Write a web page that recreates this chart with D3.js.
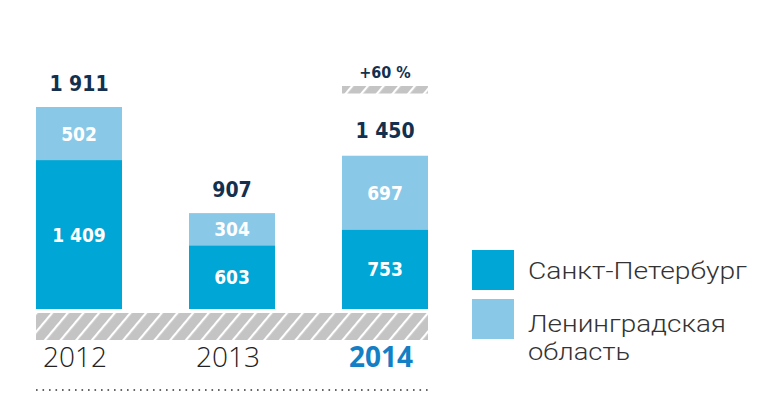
<!DOCTYPE html>
<html><head><meta charset="utf-8">
<script src="https://cdn.jsdelivr.net/npm/d3@7"></script>
<style>
body{margin:0;background:#fff;}
svg{display:block;}
</style></head>
<body>
<svg id="c" width="774" height="413"></svg>
<script>
const years = ["2012", "2013", "2014"];
const spb = [1409, 603, 753];
const lenobl = [502, 304, 697];
const totals = [1911, 907, 1450];
const growthLabel = "+60 %";
const seriesNames = ["Санкт-Петербург", "Ленинградская область"];
const colors = ["#00A6D6", "#8AC8E8"];

const svg = d3.select("#c");
const loc = d3.formatLocale({decimal: ",", thousands: "\u2009", grouping: [3], currency: ["", ""]});
const fmt = v => loc.format(",")(v).replace("\u2009", " ");

const x = d3.scaleBand().domain(years).range([36, 428]).paddingInner(0.438).paddingOuter(0);
const y = d3.scaleLinear().domain([0, 1911]).range([309, 107]);

const defs = svg.append("defs");
const pat = defs.append("pattern").attr("id", "hatch").attr("patternUnits", "userSpaceOnUse")
  .attr("width", 12).attr("height", 12).attr("patternTransform", "rotate(40)");
pat.append("rect").attr("width", 12).attr("height", 12).attr("fill", "#C4C4C4");
pat.append("rect").attr("x", 0).attr("width", 2.2).attr("height", 12).attr("fill", "#fff");

const data = years.map((yr, i) => ({yr, a: spb[i], b: lenobl[i], t: totals[i]}));

// bars
const g = svg.append("g");
g.selectAll(".spb").data(data).join("rect")
  .attr("x", d => x(d.yr)).attr("width", x.bandwidth())
  .attr("y", d => y(d.a)).attr("height", d => y(0) - y(d.a)).attr("fill", colors[0]);
g.selectAll(".lo").data(data).join("rect")
  .attr("x", d => x(d.yr)).attr("width", x.bandwidth())
  .attr("y", d => y(d.a + d.b)).attr("height", d => y(d.a) - y(d.a + d.b)).attr("fill", colors[1]);

const numFont = "'DejaVu Sans Condensed','DejaVu Sans',sans-serif";
// segment labels
g.selectAll(".la").data(data).join("text")
  .attr("x", d => x(d.yr) + x.bandwidth() / 2).attr("y", d => (y(0) + y(d.a)) / 2 + 7)
  .attr("text-anchor", "middle").attr("fill", "#fff")
  .style("font-family", numFont).style("font-weight", "bold").style("font-size", "19px")
  .text(d => fmt(d.a));
g.selectAll(".lb").data(data).join("text")
  .attr("x", d => x(d.yr) + x.bandwidth() / 2).attr("y", d => (y(d.a) + y(d.a + d.b)) / 2 + 7)
  .attr("text-anchor", "middle").attr("fill", "#fff")
  .style("font-family", numFont).style("font-weight", "bold").style("font-size", "19px")
  .text(d => fmt(d.b));
// totals
g.selectAll(".lt").data(data).join("text")
  .attr("x", d => x(d.yr) + x.bandwidth() / 2).attr("y", (d, i) => y(d.t) - (i === 2 ? 18 : 16))
  .attr("text-anchor", "middle").attr("fill", "#13304F")
  .style("font-family", numFont).style("font-weight", "bold").style("font-size", "21px")
  .text(d => fmt(d.t));

// growth marker on last bar
const last = data[2];
svg.append("rect").attr("x", x(last.yr)).attr("width", x.bandwidth())
  .attr("y", 86).attr("height", 7.5).attr("fill", "url(#hatch)");
svg.append("text").attr("x", x(last.yr) + x.bandwidth() / 2).attr("y", 78)
  .attr("text-anchor", "middle").attr("fill", "#13304F")
  .style("font-family", numFont).style("font-weight", "bold").style("font-size", "16px")
  .text(growthLabel);

// hatched base band
svg.append("rect").attr("x", 36).attr("width", 392).attr("y", 313).attr("height", 27)
  .attr("fill", "url(#hatch)");

// x axis labels
const xAxis = d3.axisBottom(x).tickSize(0).tickPadding(0);
const ax = svg.append("g").attr("transform", "translate(-4,347)").call(xAxis);
ax.select(".domain").remove();
ax.selectAll("text")
  .attr("dy", "0").attr("y", 20)
  .style("font-family", "'Open Sans','Noto Sans',sans-serif")
  .style("font-size", "28px")
  .style("font-weight", (d, i) => i === 2 ? "700" : "300")
  .attr("fill", (d, i) => i === 2 ? "#1380C6" : "#222");

// dotted line
svg.append("line").attr("x1", 36).attr("x2", 428).attr("y1", 390).attr("y2", 390)
  .attr("stroke", "#333").attr("stroke-width", 1.6).attr("stroke-dasharray", "1.6,4.9");

// legend
const lg = svg.append("g");
lg.append("rect").attr("x", 472).attr("y", 250).attr("width", 42).attr("height", 40).attr("fill", colors[0]);
lg.append("rect").attr("x", 472).attr("y", 299).attr("width", 42).attr("height", 40).attr("fill", colors[1]);
const lf = "Roboto,'Open Sans',sans-serif";
const lfs = "23.5px";
lg.append("text").attr("x", 528).attr("y", 279).attr("fill", "#333")
  .style("font-family", lf).style("font-weight", "300").style("font-size", lfs)
  .attr("textLength", 219).attr("lengthAdjust", "spacingAndGlyphs")
  .text(seriesNames[0]);
const words = seriesNames[1].split(" ");
lg.append("text").attr("x", 528).attr("y", 332).attr("fill", "#333")
  .style("font-family", lf).style("font-weight", "300").style("font-size", lfs)
  .attr("textLength", 198).attr("lengthAdjust", "spacingAndGlyphs")
  .text(words[0]);
lg.append("text").attr("x", 528).attr("y", 360).attr("fill", "#333")
  .style("font-family", lf).style("font-weight", "300").style("font-size", lfs)
  .attr("textLength", 102).attr("lengthAdjust", "spacingAndGlyphs")
  .text(words[1]);
</script>
</body></html>
